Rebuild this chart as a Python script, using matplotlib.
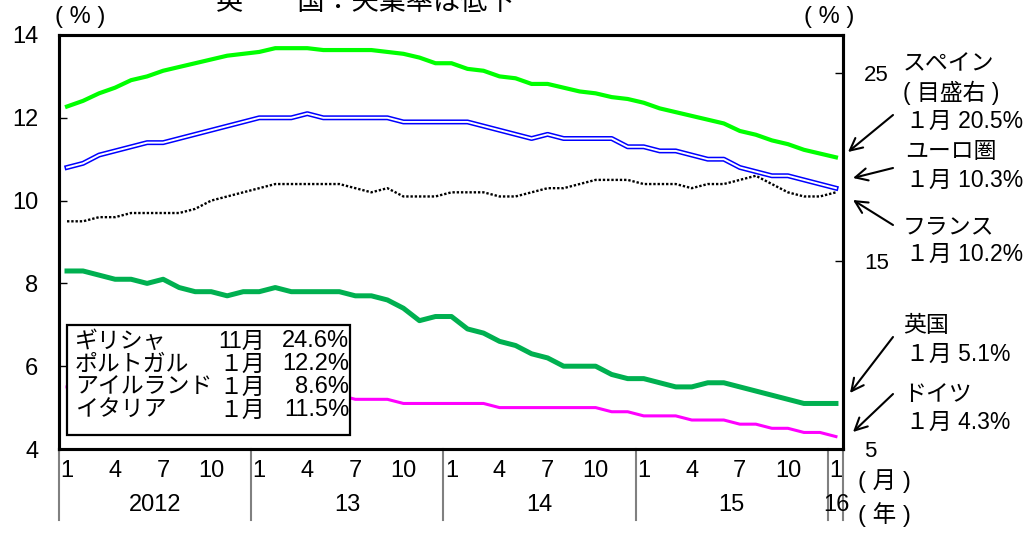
import matplotlib
matplotlib.use("Agg")
import matplotlib.pyplot as plt
from matplotlib.patches import Rectangle, FancyArrowPatch
from matplotlib.transforms import blended_transform_factory

plt.rcParams['font.family'] = ['Liberation Sans', 'Noto Sans CJK JP', 'DejaVu Sans']

# monthly data, Jan 2012 - Jan 2016
spain = [23.2, 23.5, 23.9, 24.2, 24.6, 24.8, 25.1, 25.3, 25.5, 25.7, 25.9, 26.0,
         26.1, 26.3, 26.3, 26.3, 26.2, 26.2, 26.2, 26.2, 26.1, 26.0, 25.8, 25.5,
         25.5, 25.2, 25.1, 24.8, 24.7, 24.4, 24.4, 24.2, 24.0, 23.9, 23.7, 23.6,
         23.4, 23.1, 22.9, 22.7, 22.5, 22.3, 21.9, 21.7, 21.4, 21.2, 20.9, 20.7,
         20.5]
euro = [10.8, 10.9, 11.1, 11.2, 11.3, 11.4, 11.4, 11.5, 11.6, 11.7, 11.8, 11.9,
        12.0, 12.0, 12.0, 12.1, 12.0, 12.0, 12.0, 12.0, 12.0, 11.9, 11.9, 11.9,
        11.9, 11.9, 11.8, 11.7, 11.6, 11.5, 11.6, 11.5, 11.5, 11.5, 11.5, 11.3,
        11.3, 11.2, 11.2, 11.1, 11.0, 11.0, 10.8, 10.7, 10.6, 10.6, 10.5, 10.4,
        10.3]
france = [9.5, 9.5, 9.6, 9.6, 9.7, 9.7, 9.7, 9.7, 9.8, 10.0, 10.1, 10.2,
          10.3, 10.4, 10.4, 10.4, 10.4, 10.4, 10.3, 10.2, 10.3, 10.1, 10.1, 10.1,
          10.2, 10.2, 10.2, 10.1, 10.1, 10.2, 10.3, 10.3, 10.4, 10.5, 10.5, 10.5,
          10.4, 10.4, 10.4, 10.3, 10.4, 10.4, 10.5, 10.6, 10.4, 10.2, 10.1, 10.1,
          10.2]
uk = [8.3, 8.3, 8.2, 8.1, 8.1, 8.0, 8.1, 7.9, 7.8, 7.8, 7.7, 7.8,
      7.8, 7.9, 7.8, 7.8, 7.8, 7.8, 7.7, 7.7, 7.6, 7.4, 7.1, 7.2,
      7.2, 6.9, 6.8, 6.6, 6.5, 6.3, 6.2, 6.0, 6.0, 6.0, 5.8, 5.7,
      5.7, 5.6, 5.5, 5.5, 5.6, 5.6, 5.5, 5.4, 5.3, 5.2, 5.1, 5.1,
      5.1]
germany = [5.5, 5.5, 5.4, 5.4, 5.4, 5.4, 5.4, 5.4, 5.4, 5.4, 5.4, 5.4,
           5.4, 5.4, 5.4, 5.3, 5.3, 5.3, 5.2, 5.2, 5.2, 5.1, 5.1, 5.1,
           5.1, 5.1, 5.1, 5.0, 5.0, 5.0, 5.0, 5.0, 5.0, 5.0, 4.9, 4.9,
           4.8, 4.8, 4.8, 4.7, 4.7, 4.7, 4.6, 4.6, 4.5, 4.5, 4.4, 4.4,
           4.3]

month_ticks = list(range(0, 49, 3))
month_labels = ['1', '4', '7', '10'] * 4 + ['1']
years = ['2012', '13', '14', '15', '16']
year_centers = [5.5, 17.5, 29.5, 41.5, 48]
year_bounds = [-0.5, 11.5, 23.5, 35.5, 47.5, 48.44]

legend_rows = [('ギリシャ', '11月', '24.6%'),
               ('ポルトガル', '１月', '12.2%'),
               ('アイルランド', '１月', '8.6%'),
               ('イタリア', '１月', '11.5%')]

W, H = 1028, 533


def fp(x, y):
    return (x / W, 1 - y / H)


fig = plt.figure(figsize=(W / 100, H / 100), dpi=100)
ax = fig.add_axes([59 / W, 1 - 449 / H, 784 / W, 414 / H])
ax2 = ax.twinx()

x = list(range(len(euro)))

ax.plot(x, uk, color='#00B050', lw=3.6, solid_joinstyle='round', zorder=3)
ax.plot(x, germany, color='#FF00FF', lw=2.2, zorder=3)
ax.plot(x, france, color='black', lw=1.7, linestyle=(0, (1, 0.8)), zorder=3)
ax.plot(x, euro, color='#0000FF', lw=3.6, zorder=4)
ax.plot(x, euro, color='white', lw=1.4, zorder=5)
ax2.plot(x, spain, color='#00FF00', lw=3.0)

ax.set_xlim(-0.5, 48.44)
ax.set_ylim(4, 14)
ax2.set_ylim(5, 27)

ax.set_yticks([4, 6, 8, 10, 12, 14])
ax.tick_params(axis='y', direction='in', length=6, width=1, labelsize=17, pad=15)
ax2.set_yticks([5, 15, 25])
ax2.tick_params(axis='y', direction='in', length=6, width=1, labelsize=16, pad=15)

ax.set_xticks(month_ticks)
ax.set_xticklabels(month_labels)
ax.tick_params(axis='x', length=0, labelsize=17, pad=8)

for a in (ax, ax2):
    for s in a.spines.values():
        s.set_linewidth(2.2)

trans = blended_transform_factory(ax.transData, ax.transAxes)
for b in year_bounds:
    ax.plot([b, b], [0, -0.172], transform=trans, color='#808080', lw=1.5,
            clip_on=False)
for yl, xc in zip(years, year_centers):
    ax.text(xc, -0.135, yl, transform=trans, ha='center', va='center', fontsize=17)

# title (cut at top edge, as in the source) and unit labels
fig.text(*fp(365, 3), '英　　国：失業率は低下', ha='center', va='center', fontsize=19.5)
fig.text(*fp(80, 17), '( % )', ha='center', va='center', fontsize=17)
fig.text(*fp(829, 17), '( % )', ha='center', va='center', fontsize=17)
fig.text(*fp(858, 481), '( 月 )', ha='left', va='center', fontsize=17)
fig.text(*fp(858, 515), '( 年 )', ha='left', va='center', fontsize=17)

# legend-like box
x0, y0 = fp(67, 435)
x1, y1 = fp(350, 325)
fig.add_artist(Rectangle((x0, y0), x1 - x0, y1 - y0, transform=fig.transFigure,
                         facecolor='white', edgecolor='black', lw=1.6, zorder=2))
row_y = [341, 364, 387, 410]
for (name, mon, pct), ry in zip(legend_rows, row_y):
    fig.text(*fp(75, ry), name, ha='left', va='center', fontsize=16.5, zorder=3)
    fig.text(*fp(265, ry), mon, ha='right', va='center', fontsize=16.5, zorder=3)
    fig.text(*fp(349, ry), pct, ha='right', va='center', fontsize=17, zorder=3)

# right-side annotations
notes = [(903, 64, 'スペイン'), (903, 93, '( 目盛右 )'), (906, 121, '１月 20.5%'),
         (905, 152, 'ユーロ圏'), (906, 180, '１月 10.3%'),
         (903, 227, 'フランス'), (906, 254, '１月 10.2%'),
         (903, 325, '英国'), (906, 354, '１月 5.1%'),
         (903, 395, 'ドイツ'), (906, 422, '１月 4.3%')]
for nx, ny, t in notes:
    fig.text(*fp(nx, ny), t, ha='left', va='center', fontsize=16.5)

arrows = [((893, 115), (848, 152)), ((893, 168), (853, 178)),
          ((893, 225), (853, 200)), ((893, 337), (850, 393)),
          ((893, 394), (853, 432))]
for a0, a1 in arrows:
    fig.add_artist(FancyArrowPatch(fp(*a0), fp(*a1), transform=fig.transFigure,
                                   arrowstyle='->', mutation_scale=22, lw=1.5,
                                   color='black', shrinkA=0, shrinkB=0))

fig.savefig('out.png', dpi=100)
